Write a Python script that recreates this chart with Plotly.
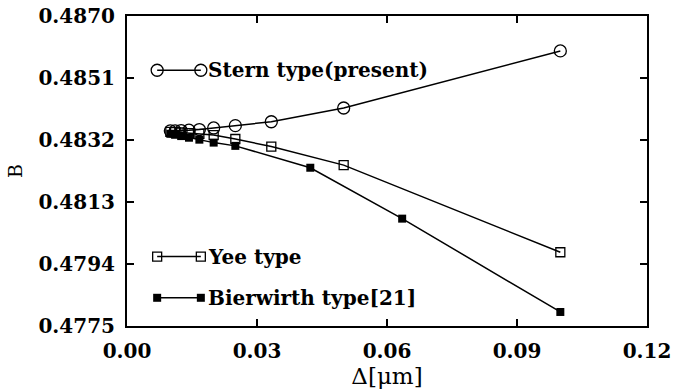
import plotly.graph_objects as go

# ---- data ----
stern_x = [0.0100, 0.0111, 0.0125, 0.0143, 0.0167, 0.0200, 0.0250, 0.0333, 0.0500, 0.1000]
stern_y = [0.48348, 0.48348, 0.48349, 0.48350, 0.48352, 0.48357, 0.48364, 0.48376, 0.48418, 0.48593]

yee_x = [0.0100, 0.0111, 0.0125, 0.0143, 0.0167, 0.0200, 0.0250, 0.0333, 0.0500, 0.1000]
yee_y = [0.48345, 0.48344, 0.48343, 0.48341, 0.48339, 0.48335, 0.48323, 0.48300, 0.48243, 0.47976]

bier_x = [0.0100, 0.0111, 0.0125, 0.0143, 0.0167, 0.0200, 0.0250, 0.0423, 0.0635, 0.1000]
bier_y = [0.48339, 0.48336, 0.48332, 0.48327, 0.48321, 0.48312, 0.48302, 0.48235, 0.48079, 0.47793]

x_ticks = [0.00, 0.03, 0.06, 0.09, 0.12]
y_ticks = [0.4775, 0.4794, 0.4813, 0.4832, 0.4851, 0.4870]

legend_names = ["Stern type(present)", "Yee type", "Bierwirth type[21]"]

# ---- styling / layout ----
SERIF = "DejaVu Serif"
line_style = dict(color="black", width=1.5)
styles = [
    dict(symbol="circle-open", size=12, color="black", line=dict(width=1.3, color="black")),
    dict(symbol="square-open", size=9, color="black", line=dict(width=1.3, color="black")),
    dict(symbol="square", size=8, color="black", line=dict(width=0, color="black")),
]

fig = go.Figure()
for xs, ys, st, nm in zip([stern_x, yee_x, bier_x], [stern_y, yee_y, bier_y], styles, legend_names):
    fig.add_trace(go.Scatter(x=xs, y=ys, mode="lines+markers", line=line_style,
                             marker=st, name=nm, showlegend=False, cliponaxis=False))

# in-plot legend samples (drawn on an overlay axis in fractions of the plot area)
leg_x = [0.058, 0.142]
leg_y = [0.825, 0.224, 0.091]
leg_text_x = 0.152
for st, ly, nm in zip(styles, leg_y, legend_names):
    fig.add_trace(go.Scatter(x=leg_x, y=[ly, ly], mode="lines+markers", line=line_style,
                             marker=st, xaxis="x2", yaxis="y2", showlegend=False,
                             cliponaxis=False, hoverinfo="skip"))
    fig.add_annotation(x=leg_text_x, y=ly, xref="x2", yref="y2", text=nm, showarrow=False,
                       xanchor="left", yanchor="middle",
                       font=dict(family=SERIF, size=20, color="black", weight="bold"))

axis_common = dict(showgrid=False, zeroline=False, showline=True, linecolor="black",
                   linewidth=2, mirror="ticks", ticks="inside", ticklen=7,
                   tickcolor="black", tickwidth=1.5, automargin=False,
                   ticklabeloverflow="allow")

fig.update_layout(
    template="none",
    width=675, height=392,
    margin=dict(l=127, r=28, t=16, b=66),
    paper_bgcolor="white", plot_bgcolor="white",
    xaxis=dict(range=[0, 0.12], tickvals=x_ticks, tickformat=".2f",
               tickfont=dict(family=SERIF, size=20, color="black", weight="bold"),
               ticklabelstandoff=6,
               title=dict(text="Δ[μm]", font=dict(family=SERIF, size=23, color="black"),
                          standoff=4),
               **axis_common),
    yaxis=dict(range=[0.4775, 0.4870], tickvals=y_ticks, tickformat=".4f",
               tickfont=dict(family=SERIF, size=20, color="black", weight="bold"),
               ticklabelstandoff=6,
               title=dict(text="B", font=dict(family=SERIF, size=19, color="black"),
                          standoff=11),
               **axis_common),
    xaxis2=dict(range=[0, 1], overlaying="x", visible=False, fixedrange=True),
    yaxis2=dict(range=[0, 1], overlaying="y", visible=False, fixedrange=True),
)

fig.write_html("out.html")
